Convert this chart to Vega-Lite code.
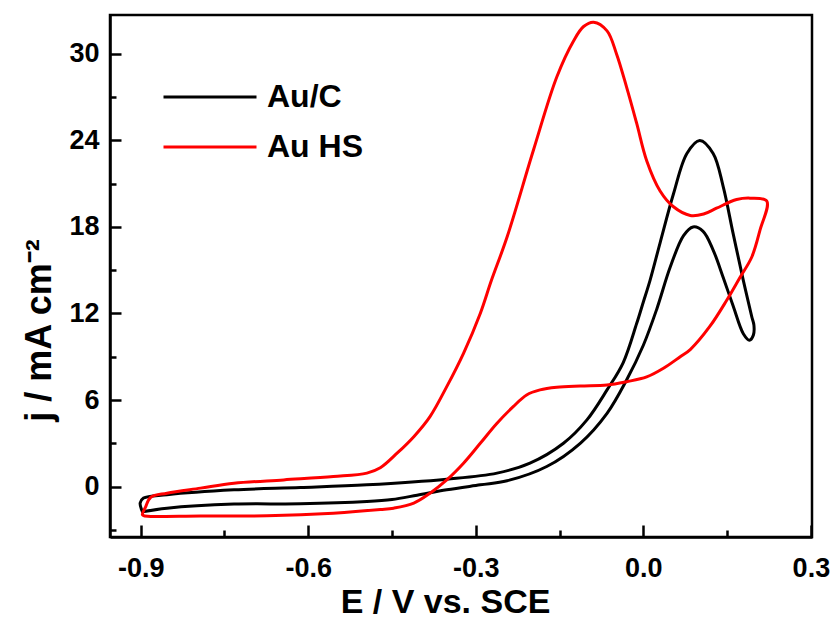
{
  "$schema": "https://vega.github.io/schema/vega-lite/v6.json",
  "autosize": {"type": "none"},
  "width": 702,
  "height": 522,
  "padding": {"left": 110, "top": 15, "right": 23, "bottom": 84},
  "background": "white",
  "config": {
    "font": "Liberation Sans",
    "view": {"stroke": "black", "strokeWidth": 2.5},
    "axis": {"grid": false, "domainColor": "black", "domainWidth": 2.5, "tickColor": "black", "tickWidth": 2.5, "labelColor": "black", "titleColor": "black", "labelFont": "Liberation Sans", "titleFont": "Liberation Sans", "labelFontWeight": "bold", "titleFontWeight": "bold"}
  },
  "data": {"values": [
    {"s":"Au/C","i":1,"E":-0.897,"j":-1.75},
    {"s":"Au/C","i":2,"E":-0.853,"j":-1.5},
    {"s":"Au/C","i":3,"E":-0.733,"j":-1.22},
    {"s":"Au/C","i":4,"E":-0.614,"j":-1.2},
    {"s":"Au/C","i":5,"E":-0.495,"j":-1.04},
    {"s":"Au/C","i":6,"E":-0.45,"j":-0.9},
    {"s":"Au/C","i":7,"E":-0.405,"j":-0.6},
    {"s":"Au/C","i":8,"E":-0.352,"j":-0.23},
    {"s":"Au/C","i":9,"E":-0.292,"j":0.12},
    {"s":"Au/C","i":10,"E":-0.244,"j":0.4},
    {"s":"Au/C","i":11,"E":-0.173,"j":1.39},
    {"s":"Au/C","i":12,"E":-0.113,"j":3.0},
    {"s":"Au/C","i":13,"E":-0.065,"j":5.08},
    {"s":"Au/C","i":14,"E":-0.03,"j":7.39},
    {"s":"Au/C","i":15,"E":0.0,"j":9.8},
    {"s":"Au/C","i":16,"E":0.024,"j":12.3},
    {"s":"Au/C","i":17,"E":0.048,"j":15.2},
    {"s":"Au/C","i":18,"E":0.072,"j":17.4},
    {"s":"Au/C","i":19,"E":0.089,"j":18.0},
    {"s":"Au/C","i":20,"E":0.107,"j":17.7},
    {"s":"Au/C","i":21,"E":0.125,"j":16.4},
    {"s":"Au/C","i":22,"E":0.143,"j":14.5},
    {"s":"Au/C","i":23,"E":0.161,"j":12.5},
    {"s":"Au/C","i":24,"E":0.179,"j":10.6},
    {"s":"Au/C","i":25,"E":0.19,"j":10.15},
    {"s":"Au/C","i":26,"E":0.197,"j":10.5},
    {"s":"Au/C","i":27,"E":0.198,"j":11.2},
    {"s":"Au/C","i":28,"E":0.194,"j":11.8},
    {"s":"Au/C","i":29,"E":0.179,"j":14.3},
    {"s":"Au/C","i":30,"E":0.161,"j":17.5},
    {"s":"Au/C","i":31,"E":0.143,"j":20.8},
    {"s":"Au/C","i":32,"E":0.125,"j":23.1},
    {"s":"Au/C","i":33,"E":0.101,"j":24.0},
    {"s":"Au/C","i":34,"E":0.078,"j":23.1},
    {"s":"Au/C","i":35,"E":0.054,"j":20.3},
    {"s":"Au/C","i":36,"E":0.03,"j":16.9},
    {"s":"Au/C","i":37,"E":0.012,"j":14.3},
    {"s":"Au/C","i":38,"E":0.0,"j":12.8},
    {"s":"Au/C","i":39,"E":-0.012,"j":11.3},
    {"s":"Au/C","i":40,"E":-0.036,"j":8.6},
    {"s":"Au/C","i":41,"E":-0.065,"j":6.7},
    {"s":"Au/C","i":42,"E":-0.101,"j":4.62},
    {"s":"Au/C","i":43,"E":-0.143,"j":3.0},
    {"s":"Au/C","i":44,"E":-0.203,"j":1.62},
    {"s":"Au/C","i":45,"E":-0.262,"j":0.93},
    {"s":"Au/C","i":46,"E":-0.352,"j":0.51},
    {"s":"Au/C","i":47,"E":-0.495,"j":0.12},
    {"s":"Au/C","i":48,"E":-0.614,"j":-0.07},
    {"s":"Au/C","i":49,"E":-0.733,"j":-0.23},
    {"s":"Au/C","i":50,"E":-0.853,"j":-0.57},
    {"s":"Au/C","i":51,"E":-0.895,"j":-0.8},
    {"s":"Au/C","i":52,"E":-0.901,"j":-1.15},
    {"s":"Au/C","i":53,"E":-0.897,"j":-1.75},
    {"s":"Au HS","i":1,"E":-0.893,"j":-2.05},
    {"s":"Au HS","i":2,"E":-0.882,"j":-2.08},
    {"s":"Au HS","i":3,"E":-0.793,"j":-2.05},
    {"s":"Au HS","i":4,"E":-0.674,"j":-2.03},
    {"s":"Au HS","i":5,"E":-0.555,"j":-1.85},
    {"s":"Au HS","i":6,"E":-0.471,"j":-1.6},
    {"s":"Au HS","i":7,"E":-0.447,"j":-1.5},
    {"s":"Au HS","i":8,"E":-0.411,"j":-1.15},
    {"s":"Au HS","i":9,"E":-0.382,"j":-0.46},
    {"s":"Au HS","i":10,"E":-0.352,"j":0.46},
    {"s":"Au HS","i":11,"E":-0.322,"j":1.62},
    {"s":"Au HS","i":12,"E":-0.292,"j":3.0},
    {"s":"Au HS","i":13,"E":-0.262,"j":4.39},
    {"s":"Au HS","i":14,"E":-0.233,"j":5.54},
    {"s":"Au HS","i":15,"E":-0.209,"j":6.35},
    {"s":"Au HS","i":16,"E":-0.185,"j":6.7},
    {"s":"Au HS","i":17,"E":-0.155,"j":6.88},
    {"s":"Au HS","i":18,"E":-0.113,"j":6.97},
    {"s":"Au HS","i":19,"E":-0.065,"j":7.04},
    {"s":"Au HS","i":20,"E":-0.03,"j":7.27},
    {"s":"Au HS","i":21,"E":0.006,"j":7.6},
    {"s":"Au HS","i":22,"E":0.036,"j":8.2},
    {"s":"Au HS","i":23,"E":0.066,"j":9.0},
    {"s":"Au HS","i":24,"E":0.084,"j":9.5},
    {"s":"Au HS","i":25,"E":0.119,"j":11.1},
    {"s":"Au HS","i":26,"E":0.149,"j":12.9},
    {"s":"Au HS","i":27,"E":0.173,"j":14.5},
    {"s":"Au HS","i":28,"E":0.194,"j":15.9},
    {"s":"Au HS","i":29,"E":0.209,"j":17.8},
    {"s":"Au HS","i":30,"E":0.221,"j":19.8},
    {"s":"Au HS","i":31,"E":0.191,"j":20.0},
    {"s":"Au HS","i":32,"E":0.167,"j":19.9},
    {"s":"Au HS","i":33,"E":0.131,"j":19.3},
    {"s":"Au HS","i":34,"E":0.108,"j":18.9},
    {"s":"Au HS","i":35,"E":0.084,"j":18.8},
    {"s":"Au HS","i":36,"E":0.054,"j":19.4},
    {"s":"Au HS","i":37,"E":0.03,"j":20.5},
    {"s":"Au HS","i":38,"E":0.006,"j":22.6},
    {"s":"Au HS","i":39,"E":-0.012,"j":25.2},
    {"s":"Au HS","i":40,"E":-0.03,"j":27.7},
    {"s":"Au HS","i":41,"E":-0.048,"j":30.0},
    {"s":"Au HS","i":42,"E":-0.065,"j":31.6},
    {"s":"Au HS","i":43,"E":-0.089,"j":32.2},
    {"s":"Au HS","i":44,"E":-0.107,"j":31.9},
    {"s":"Au HS","i":45,"E":-0.125,"j":30.9},
    {"s":"Au HS","i":46,"E":-0.155,"j":28.4},
    {"s":"Au HS","i":47,"E":-0.197,"j":23.3},
    {"s":"Au HS","i":48,"E":-0.244,"j":17.3},
    {"s":"Au HS","i":49,"E":-0.272,"j":14.3},
    {"s":"Au HS","i":50,"E":-0.292,"j":12.0},
    {"s":"Au HS","i":51,"E":-0.322,"j":9.24},
    {"s":"Au HS","i":52,"E":-0.352,"j":6.93},
    {"s":"Au HS","i":53,"E":-0.382,"j":4.85},
    {"s":"Au HS","i":54,"E":-0.411,"j":3.46},
    {"s":"Au HS","i":55,"E":-0.441,"j":2.31},
    {"s":"Au HS","i":56,"E":-0.471,"j":1.3},
    {"s":"Au HS","i":57,"E":-0.495,"j":0.93},
    {"s":"Au HS","i":58,"E":-0.555,"j":0.69},
    {"s":"Au HS","i":59,"E":-0.644,"j":0.46},
    {"s":"Au HS","i":60,"E":-0.733,"j":0.23},
    {"s":"Au HS","i":61,"E":-0.793,"j":-0.11},
    {"s":"Au HS","i":62,"E":-0.853,"j":-0.46},
    {"s":"Au HS","i":63,"E":-0.882,"j":-0.74},
    {"s":"Au HS","i":64,"E":-0.891,"j":-1.39},
    {"s":"Au HS","i":65,"E":-0.897,"j":-1.96},
    {"s":"Au HS","i":66,"E":-0.893,"j":-2.05}
  ]},
  "layer": [
    {
      "mark": {"type": "line", "strokeWidth": 3, "strokeJoin": "round", "strokeCap": "round", "interpolate": "catmull-rom"},
      "encoding": {
        "x": {"field": "E", "type": "quantitative", "scale": {"domain": [-0.955, 0.302], "nice": false, "zero": false},
              "axis": {"orient": "bottom", "values": [-0.9, -0.6, -0.3, 0, 0.3], "tickSize": -12, "labelFontSize": 27, "labelPadding": 30, "labelExpr": "replace(format(datum.value, '.1f'), '\u2212', '-')", "title": "E / V vs. SCE", "titleFontSize": 34, "titlePadding": 4, "titleX": 335}},
        "y": {"field": "j", "type": "quantitative", "scale": {"domain": [-3.5, 32.7], "nice": false, "zero": false},
              "axis": {"orient": "left", "values": [0, 6, 12, 18, 24, 30], "tickSize": -11, "labelFontSize": 27, "labelPadding": 22, "format": "d", "title": "j / mA cm\u207b\u00b2", "titleFontSize": 36, "titlePadding": 10, "titleY": 315}},
        "color": {"field": "s", "type": "nominal", "scale": {"domain": ["Au/C", "Au HS"], "range": ["#000000", "#ff0000"]},
                  "legend": {"title": null, "orient": "none", "legendX": 52, "legendY": 62, "symbolType": "stroke", "symbolSize": 8649, "symbolStrokeWidth": 3, "clipHeight": 40, "rowPadding": 10, "padding": 0, "labelFontSize": 32, "labelFontWeight": "bold", "labelColor": "black", "labelOffset": 9}},
        "order": {"field": "i", "type": "quantitative"}
      }
    },
    {
      "mark": {"type": "point", "opacity": 0},
      "encoding": {
        "x": {"field": "E", "type": "quantitative",
              "axis": {"orient": "bottom", "values": [-0.75, -0.45, -0.15, 0.15], "tickSize": -7, "labels": false, "domain": false, "title": null}},
        "y": {"field": "j", "type": "quantitative",
              "axis": {"orient": "left", "values": [-3, 3, 9, 15, 21, 27], "tickSize": -6, "labels": false, "domain": false, "title": null}}
      }
    }
  ],
  "resolve": {"axis": {"x": "independent", "y": "independent"}}
}
